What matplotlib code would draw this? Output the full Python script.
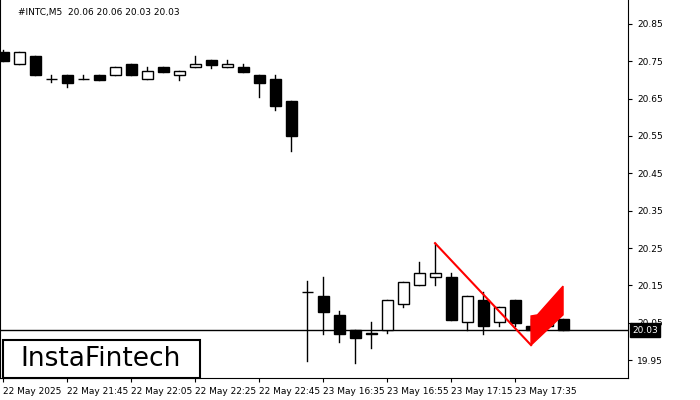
import matplotlib
matplotlib.use("Agg")
import matplotlib.pyplot as plt
from matplotlib.patches import Rectangle, Polygon

opens  = [20.774,20.742,20.764,20.702,20.713,20.702,20.713,20.713,20.743,20.702,20.735,20.713,20.734,20.753,20.734,20.735,20.713,20.703,20.644,
          20.131,20.121,20.070,20.030,20.021,20.030,20.101,20.150,20.172,20.172,20.051,20.110,20.051,20.110,20.040,20.040,20.060]
closes = [20.752,20.774,20.712,20.702,20.693,20.702,20.701,20.734,20.712,20.723,20.722,20.723,20.743,20.741,20.743,20.722,20.693,20.631,20.551,
          20.131,20.079,20.020,20.010,20.021,20.110,20.160,20.182,20.182,20.058,20.121,20.040,20.091,20.050,20.030,20.069,20.030]
highs  = [20.780,20.774,20.764,20.712,20.713,20.713,20.713,20.734,20.743,20.734,20.735,20.723,20.764,20.753,20.753,20.743,20.713,20.713,20.644,
          20.162,20.172,20.081,20.030,20.051,20.110,20.160,20.212,20.263,20.182,20.121,20.133,20.091,20.110,20.060,20.091,20.060]
lows   = [20.752,20.742,20.712,20.695,20.682,20.702,20.701,20.713,20.712,20.702,20.722,20.700,20.734,20.732,20.734,20.722,20.653,20.620,20.510,
          19.948,20.021,19.999,19.941,19.981,20.022,20.091,20.150,20.150,20.058,20.030,20.021,20.040,20.040,20.030,20.040,20.030]
tick_idx = [0,4,8,12,16,20,24,28,32]
tick_labels = ["22 May 2025","22 May 21:45","22 May 22:05","22 May 22:25","22 May 22:45",
               "23 May 16:35","23 May 16:55","23 May 17:15","23 May 17:35"]
yticks = [19.95,20.05,20.15,20.25,20.35,20.45,20.55,20.65,20.75,20.85]
pole = ([27,33],[20.263,19.99])
flag = [(33,19.99),(33,20.068),(33.4,20.071),(35,20.148),(35,20.071)]
last = 20.03

fig = plt.figure(figsize=(7,4), dpi=100)
ax = fig.add_axes([0, 22/400, 628/700, 378/400])
w = 0.69
for i,(o,c,h,l) in enumerate(zip(opens,closes,highs,lows)):
    ax.plot([i,i],[l,h],color='black',lw=1,zorder=2)
    bot, top = min(o,c), max(o,c)
    hgt = max(top-bot, 0.0005)
    ax.add_patch(Rectangle((i-w/2,bot),w,hgt,facecolor='white' if c>o else 'black',
                           edgecolor='black',lw=1,zorder=3))
ax.axhline(last,color='black',lw=1,zorder=1)
ax.plot(*pole,color='red',lw=1.5,zorder=4)
ax.add_patch(Polygon(flag,closed=True,facecolor='red',edgecolor='red',zorder=4))
ax.set_xlim(-0.19,39.06)
ax.set_ylim(19.902,20.914)
ax.yaxis.tick_right()
ax.set_yticks(yticks)
ax.set_yticklabels([f"{v:.2f}" for v in yticks])
ax.set_xticks(tick_idx)
ax.set_xticklabels(tick_labels,ha='left')
ax.tick_params(labelsize=6.5,length=3,colors='black')
ax.spines['top'].set_visible(False)
ax.annotate(f"{last:.2f}", xy=(1,last), xycoords=('axes fraction','data'),
            xytext=(3,0), textcoords='offset points', va='center', ha='left',
            fontsize=6.5, color='white',
            bbox=dict(boxstyle='square,pad=0.25',fc='black',ec='black'))
fig.text(18/700, 1-12/400, "#INTC,M5  20.06 20.06 20.03 20.03", fontsize=6.5, va='center')
fig.patches.append(Rectangle((3/700, 22/400), 197/700, 38/400, transform=fig.transFigure,
                             facecolor='white', edgecolor='black', lw=1.5, zorder=10))
fig.text(101/700, 41/400, "InstaFintech", fontsize=19, ha='center', va='center', zorder=11)
fig.savefig("out.png")
